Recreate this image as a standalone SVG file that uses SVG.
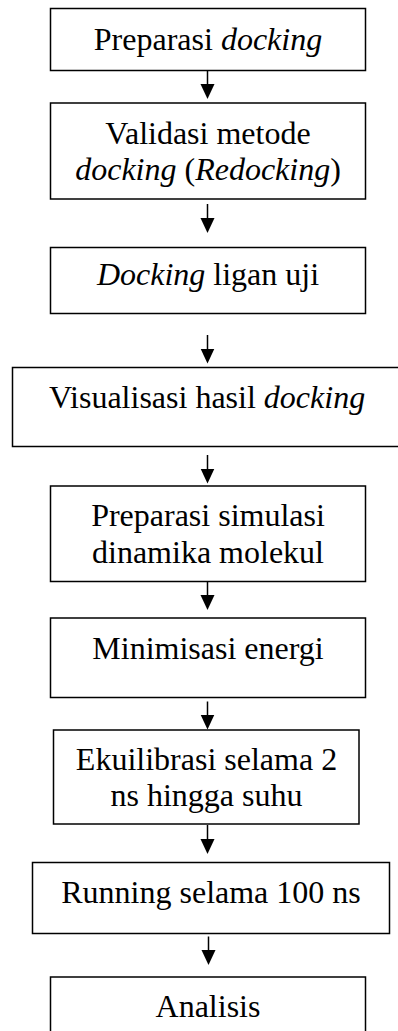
<svg xmlns="http://www.w3.org/2000/svg" width="398" height="1031" viewBox="0 0 398 1031">
<style>
.box{fill:#fff;stroke:#000;stroke-width:1.5}
.t{font-family:"Liberation Serif","Times New Roman",serif;font-size:32px;fill:#000;text-anchor:middle}
.i{font-style:italic}
.c{stroke:#000;stroke-width:1.5;fill:none}
</style>
<defs>
<marker id="ah" markerUnits="userSpaceOnUse" markerWidth="16" markerHeight="15" refX="7" refY="7" orient="auto">
<path d="M0,0 L15,7 L0,14 z" fill="#000"/>
</marker>
</defs>
<rect width="398" height="1031" fill="#fff"/>
<g id="connectors">
<line class="c" x1="207.5" y1="71" x2="207.5" y2="91" marker-end="url(#ah)"/>
<line class="c" x1="207.5" y1="204" x2="207.5" y2="225" marker-end="url(#ah)"/>
<line class="c" x1="207.5" y1="335" x2="207.5" y2="355.5" marker-end="url(#ah)"/>
<line class="c" x1="207.5" y1="455" x2="207.5" y2="475.5" marker-end="url(#ah)"/>
<line class="c" x1="207.5" y1="582" x2="207.5" y2="602" marker-end="url(#ah)"/>
<line class="c" x1="207.5" y1="701.5" x2="207.5" y2="721.5" marker-end="url(#ah)"/>
<line class="c" x1="207.5" y1="825" x2="207.5" y2="846" marker-end="url(#ah)"/>
<line class="c" x1="208.5" y1="936.5" x2="208.5" y2="957" marker-end="url(#ah)"/>
</g>
<g id="n1"><rect class="box" x="50.5" y="8.5" width="315" height="62"/>
<text class="t" x="208" y="49.5">Preparasi <tspan class="i">docking</tspan></text></g>
<g id="n2"><rect class="box" x="50.5" y="103" width="315" height="96"/>
<text class="t" x="208" y="144">Validasi metode</text>
<text class="t" x="208" y="180"><tspan class="i">docking</tspan> (<tspan class="i">Redocking</tspan>)</text></g>
<g id="n3"><rect class="box" x="50.5" y="247.5" width="315" height="66"/>
<text class="t" x="208" y="285"><tspan class="i">Docking</tspan> ligan uji</text></g>
<g id="n4"><rect class="box" x="12.5" y="367.5" width="400" height="79"/>
<text class="t" x="207" y="407.5">Visualisasi hasil <tspan class="i">docking</tspan></text></g>
<g id="n5"><rect class="box" x="50.5" y="486" width="315" height="95.5"/>
<text class="t" x="208" y="526">Preparasi simulasi</text>
<text class="t" x="208" y="562.5">dinamika molekul</text></g>
<g id="n6"><rect class="box" x="50.5" y="618" width="315" height="79.5"/>
<text class="t" x="208" y="658.5">Minimisasi energi</text></g>
<g id="n7"><rect class="box" x="53.5" y="730" width="305.5" height="94"/>
<text class="t" x="206.5" y="770">Ekuilibrasi selama 2</text>
<text class="t" x="206.5" y="806">ns hingga suhu</text></g>
<g id="n8"><rect class="box" x="32.5" y="862.5" width="357" height="71"/>
<text class="t" x="211" y="903">Running selama 100 ns</text></g>
<g id="n9"><rect class="box" x="50.5" y="977" width="315" height="80"/>
<text class="t" x="208" y="1017">Analisis</text></g>
</svg>
